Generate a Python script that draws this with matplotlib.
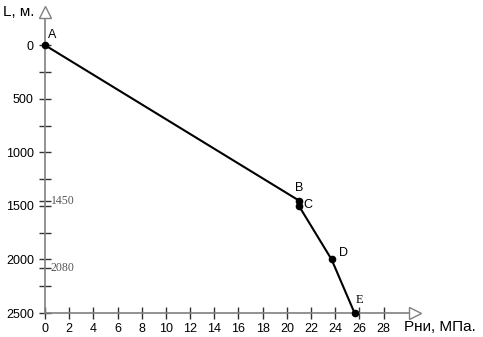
import matplotlib.pyplot as plt
import numpy as np

# points on the curve
names = ["A", "B", "C", "D", "E"]
pressure = [0, 21.0, 21.0, 23.7, 25.6]
depth = [0, 1450, 1500, 2000, 2500]

xticks = list(range(0, 30, 2))
yticks = [0, 500, 1000, 1500, 2000, 2500]
yminor = [250, 750, 1250, 1750, 2250]
extra_ticks = [1450, 2080]

axis_color = "#808080"
sans = "Liberation Sans"
serif = "Liberation Serif"

fig = plt.figure(figsize=(4.83, 3.37), dpi=100)
ax = fig.add_axes([45 / 483, 24 / 337, 370 / 483, 301 / 337])
ax.set_xlim(0, 30.6)
ax.set_ylim(2500, -310)

for s in ["top", "right"]:
    ax.spines[s].set_visible(False)
for s in ["left", "bottom"]:
    ax.spines[s].set_color(axis_color)
    ax.spines[s].set_linewidth(1.2)

ax.set_xticks(xticks)
ax.set_yticks(yticks)
ax.set_yticks(yminor + extra_ticks, minor=True)
ax.tick_params(axis="both", which="both", direction="inout", color="#333333",
               length=8, width=1, labelsize=9, labelfontfamily=sans)
ax.tick_params(axis="x", pad=3)
ax.tick_params(axis="y", pad=4)

# arrow heads on axes
ax.plot([30.6], [2500], marker=">", ms=9, mfc="white", mec=axis_color,
        mew=1, clip_on=False, zorder=5)
ax.plot([0], [-310], marker="^", ms=9, mfc="white", mec=axis_color,
        mew=1, clip_on=False, zorder=5)

ax.plot(pressure, depth, color="black", lw=1.5, marker="o", ms=4.5,
        clip_on=False, zorder=4)

offsets = {"A": (2, 3), "B": (-3, 5), "C": (3, -4), "D": (5, 0), "E": (1, 5)}
for n, x, y in zip(names, pressure, depth):
    fam = serif if n == "E" else sans
    ax.annotate(n, (x, y), xytext=offsets[n], textcoords="offset points",
                fontsize=9, family=fam, ha="left", va="bottom")

for v in extra_ticks:
    ax.annotate(str(v), (0, v), xytext=(4, 0), textcoords="offset points",
                fontsize=8.5, family=serif, color="#555555", ha="left",
                va="center")

fig.text(3 / 483, 1 - 12 / 337, "L, м.", fontsize=11, family=sans,
         va="center", ha="left")
fig.text(404 / 483, 1 - 327 / 337, "Рни, МПа.", fontsize=11, family=sans,
         va="center", ha="left")

fig.savefig("out.png", dpi=100)
